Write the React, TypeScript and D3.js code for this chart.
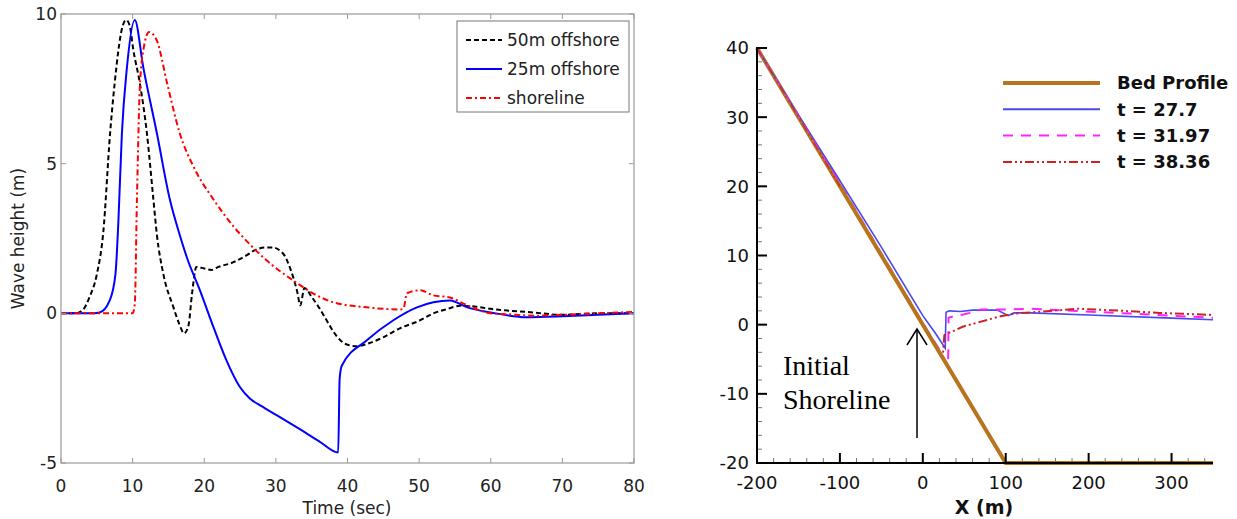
import * as d3 from "d3";

// left panel: wave height time series
const t50 = [0, 2, 3, 4, 5, 5.9, 6.85, 7.5, 8.5, 9.1, 9.6, 10.1, 11, 12, 12.9, 13.4, 14.3, 15.7, 16.5, 17.2, 17.8, 18.3, 18.9, 20, 21, 22, 24, 26, 27, 28.5, 29.5, 31, 32, 33, 33.4, 34, 35, 36, 37, 38, 39, 40, 41.3, 43, 45, 47.3, 50, 52, 54, 55.7, 58, 60, 62, 65, 70, 75, 80];
const h50 = [0, 0, 0.1, 0.55, 1.3, 2.7, 6.0, 7.7, 9.5, 9.8, 9.6, 8.8, 7.7, 6.0, 3.8, 2.6, 1.3, 0.2, -0.35, -0.67, -0.4, 0.67, 1.55, 1.5, 1.45, 1.55, 1.7, 1.95, 2.1, 2.2, 2.2, 2.0, 1.5, 0.7, 0.27, 0.85, 0.55, 0.2, -0.2, -0.6, -0.9, -1.05, -1.1, -1.0, -0.8, -0.5, -0.25, 0.0, 0.15, 0.25, 0.22, 0.15, 0.1, 0.05, -0.05, 0, 0];

const t25 = [0, 4, 5.4, 6.8, 7.6, 8.0, 8.5, 9.2, 10.3, 11.5, 13.4, 15.2, 16.6, 17.6, 19.4, 21.3, 23.1, 25, 26.4, 28, 30.1, 33.4, 36.2, 38.7, 38.9, 39.2, 42.7, 46.4, 49.7, 52, 54.3, 56.7, 60, 65, 70, 75, 80];
const h25 = [0, 0, 0.03, 0.43, 1.3, 3.0, 6.0, 8.2, 9.8, 8.2, 6.0, 3.8, 2.6, 1.85, 0.77, -0.47, -1.57, -2.47, -2.85, -3.1, -3.4, -3.88, -4.3, -4.65, -2.2, -1.75, -0.9, -0.23, 0.2, 0.37, 0.43, 0.2, 0.03, -0.13, -0.1, -0.05, 0];

const tShore = [0, 10, 10.3, 10.6, 11, 11.5, 12.3, 13.4, 14.8, 16.6, 18.5, 21.3, 24.1, 26.8, 28.7, 32.4, 35.7, 38, 42.7, 47.3, 47.8, 48.3, 50.1, 52, 54.3, 56.7, 60, 62.3, 66, 70, 75, 80];
const hShore = [0, 0, 0.3, 3.8, 7.5, 8.8, 9.4, 9.1, 7.7, 6.0, 4.9, 3.8, 2.9, 2.2, 1.77, 1.1, 0.6, 0.37, 0.2, 0.13, 0.15, 0.67, 0.77, 0.6, 0.53, 0.27, 0, -0.03, -0.08, -0.05, 0, 0.05];

const leftXTicks = [0, 10, 20, 30, 40, 50, 60, 70, 80];
const leftYTicks = [-5, 0, 5, 10];
const leftLegend = ["50m offshore", "25m offshore", "shoreline"];

// right panel: free surface profiles
const xBed = [-200, 100, 350];
const yBed = [40, -20, -20];
const x277 = [-200, -150, -100, -50, 0, 15, 27, 28, 32, 45, 60, 90, 103, 110, 130, 200, 300, 350];
const y277 = [40, 30.3, 20.8, 11.2, 1.3, -1.2, -3.4, 1.8, 2.0, 1.9, 2.1, 2.1, 1.3, 1.7, 1.7, 1.4, 0.95, 0.7];
const x3197 = [-200, -100, 0, 20, 30.5, 31, 40, 50, 57, 70, 100, 130, 180, 250, 350];
const y3197 = [40, 20.4, 0.2, -3.6, -6.0, 1.0, 1.3, 1.5, 1.7, 2.2, 2.2, 2.3, 2.0, 1.6, 1.0];
const x3836 = [-200, -100, 0, 24, 26, 48, 69, 90, 110, 145, 186, 226, 286, 350];
const y3836 = [40, 20, 0, -4.6, -1.5, -0.3, 0.4, 1.1, 1.6, 1.9, 2.3, 2.1, 1.7, 1.4];

const rightXTicks = [-200, -100, 0, 100, 200, 300];
const rightYTicks = [-20, -10, 0, 10, 20, 30, 40];
const rightLegend = ["Bed Profile", "t = 27.7", "t = 31.97", "t = 38.36"];

const zip = (xs: number[], ys: number[]) => xs.map((x, i) => [x, ys[i]] as [number, number]);

export default function App() {
  // left axes
  const lx = d3.scaleLinear().domain([0, 80]).range([61, 634]);
  const ly = d3.scaleLinear().domain([-5, 10]).range([463, 14]);
  const lline = d3.line<[number, number]>().x(d => lx(d[0])).y(d => ly(d[1])).curve(d3.curveMonotoneX);

  const leftSeries = [
    { name: leftLegend[0], pts: zip(t50, h50), color: "#000", dash: "5,3" },
    { name: leftLegend[1], pts: zip(t25, h25), color: "#0000ff", dash: "none" },
    { name: leftLegend[2], pts: zip(tShore, hShore), color: "#ff0000", dash: "6,3,2,3" },
  ];

  // right axes
  const rx = d3.scaleLinear().domain([-200, 350]).range([757, 1213]);
  const ry = d3.scaleLinear().domain([-20, 40]).range([463, 48]);
  const rline = d3.line<[number, number]>().x(d => rx(d[0])).y(d => ry(d[1]));

  const rightSeries = [
    { name: rightLegend[0], pts: zip(xBed, yBed), color: "#b8741c", width: 4, dash: "none" },
    { name: rightLegend[1], pts: zip(x277, y277), color: "#4848f0", width: 1.6, dash: "none" },
    { name: rightLegend[2], pts: zip(x3197, y3197), color: "#ff22ff", width: 2, dash: "10,8" },
    { name: rightLegend[3], pts: zip(x3836, y3836), color: "#cc2222", width: 2, dash: "9,3,2,3,2,3" },
  ];

  const yMinor = d3.range(-20, 41, 2).filter(v => v % 10 !== 0);
  const xMinor = d3.range(-200, 351, 20).filter(v => v % 100 !== 0);

  return (
    <svg width={1237} height={519} style={{ position: "absolute", left: 0, top: 0, background: "#fff" }}>
      {/* ---------- left chart ---------- */}
      <g fontFamily="DejaVu Sans" fill="#222">
        {leftSeries.map(s => (
          <path key={s.name} d={lline(s.pts) || ""} fill="none" stroke={s.color} strokeWidth={2} strokeDasharray={s.dash} />
        ))}
        <rect x={61} y={14} width={573} height={449} fill="none" stroke="#999" strokeWidth={1.2} />
        {leftXTicks.map(t => (
          <g key={"lx" + t}>
            <line x1={lx(t)} x2={lx(t)} y1={463} y2={458} stroke="#999" />
            <line x1={lx(t)} x2={lx(t)} y1={14} y2={19} stroke="#999" />
            <text x={lx(t)} y={492} fontSize={17} textAnchor="middle">{t}</text>
          </g>
        ))}
        {leftYTicks.map(v => (
          <g key={"ly" + v}>
            <line x1={61} x2={66} y1={ly(v)} y2={ly(v)} stroke="#999" />
            <line x1={634} x2={629} y1={ly(v)} y2={ly(v)} stroke="#999" />
            <text x={57} y={ly(v)} dy="0.36em" fontSize={17} textAnchor="end">{v}</text>
          </g>
        ))}
        <text x={347} y={514} fontSize={17} textAnchor="middle">Time (sec)</text>
        <text transform={`translate(24,${(14 + 463) / 2}) rotate(-90)`} fontSize={17} textAnchor="middle">Wave height (m)</text>

        <rect x={457} y={21} width={172} height={91} fill="#fff" stroke="#777" strokeWidth={1} />
        {leftSeries.map((s, i) => (
          <g key={"lg" + s.name}>
            <line x1={466} x2={502} y1={40 + i * 29} y2={40 + i * 29} stroke={s.color} strokeWidth={2} strokeDasharray={s.dash} />
            <text x={507} y={40 + i * 29} dy="0.36em" fontSize={17}>{s.name}</text>
          </g>
        ))}
      </g>

      {/* ---------- right chart ---------- */}
      <g fontFamily="DejaVu Sans" fill="#111">
        {rightSeries.slice(1).map(s => (
          <path key={s.name} d={rline(s.pts) || ""} fill="none" stroke={s.color} strokeWidth={s.width} strokeDasharray={s.dash} />
        ))}
        <path d={rline(rightSeries[0].pts) || ""} fill="none" stroke={rightSeries[0].color} strokeWidth={4} />
        {/* wave lines stay visible where they lie on the upper bed */}
        {rightSeries.slice(1).map(s => (
          <path key={"o" + s.name} d={rline(s.pts.filter(p => p[0] < -60)) || ""} fill="none" stroke={s.color} strokeWidth={1.4} strokeDasharray={s.dash} opacity={0.8} />
        ))}

        {yMinor.map(v => (
          <line key={"rym" + v} x1={757} x2={762} y1={ry(v)} y2={ry(v)} stroke="#777" />
        ))}
        {xMinor.map(v => (
          <line key={"rxm" + v} x1={rx(v)} x2={rx(v)} y1={463} y2={458} stroke="#777" />
        ))}
        <line x1={757} x2={757} y1={47} y2={464} stroke="#000" strokeWidth={2} />
        <line x1={756} x2={1213} y1={463} y2={463} stroke="#000" strokeWidth={2} />
        {rightYTicks.map(v => (
          <g key={"ry" + v}>
            <line x1={757} x2={767} y1={ry(v)} y2={ry(v)} stroke="#000" strokeWidth={2} />
            <text x={749} y={ry(v)} dy="0.36em" fontSize={18} textAnchor="end">{v}</text>
          </g>
        ))}
        {rightXTicks.map(v => (
          <g key={"rx" + v}>
            <line x1={rx(v)} x2={rx(v)} y1={463} y2={453} stroke="#000" strokeWidth={2} />
            <text x={rx(v)} y={489} fontSize={18} textAnchor="middle">{v}</text>
          </g>
        ))}
        <text x={984} y={514} fontSize={19} fontWeight="bold" textAnchor="middle">X (m)</text>

        {rightSeries.map((s, i) => (
          <g key={"rl" + s.name}>
            <line x1={1003} x2={1100} y1={83 + i * 26.3} y2={83 + i * 26.3} stroke={s.color} strokeWidth={s.width === 4 ? 4 : 2} strokeDasharray={s.dash} />
            <text x={1117} y={83 + i * 26.3} dy="0.36em" fontSize={18} fontWeight="bold">{s.name}</text>
          </g>
        ))}

        <g fontFamily="Liberation Serif" fontSize={28} fill="#000">
          <text x={783} y={375}>Initial</text>
          <text x={783} y={409}>Shoreline</text>
        </g>
        <line x1={917} x2={917} y1={438} y2={329} stroke="#000" strokeWidth={1.5} />
        <polyline points="907,345 917,329 927,345" fill="none" stroke="#000" strokeWidth={1.5} />
      </g>
    </svg>
  );
}
